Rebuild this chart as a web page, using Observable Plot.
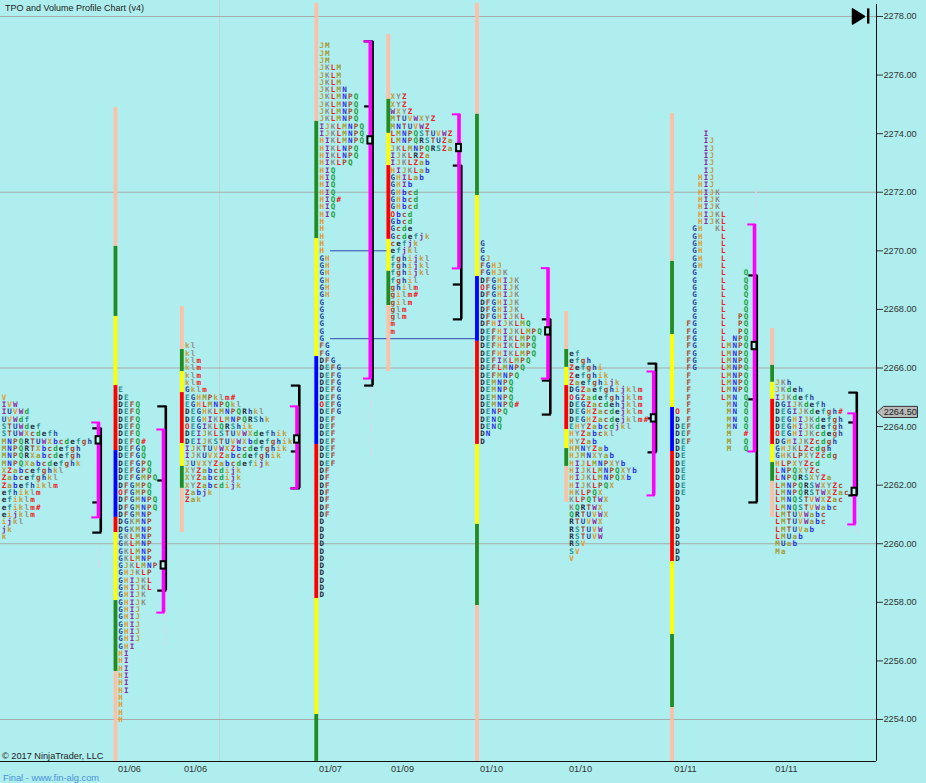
<!DOCTYPE html>
<html>
<head>
<meta charset="utf-8">
<script src="https://cdn.jsdelivr.net/npm/d3@7"></script>
<script src="https://cdn.jsdelivr.net/npm/@observablehq/plot@0.6"></script>
<style>
html,body{margin:0;padding:0;background:#afeeee;width:926px;height:783px;overflow:hidden}
#chart{position:absolute;left:0;top:0}
.note{position:absolute;font-family:"Liberation Sans",Arial,sans-serif;font-size:9.2px;line-height:12px;color:#222;white-space:nowrap}
</style>
</head>
<body>
<div id="chart"></div>
<div class="note" style="left:5px;top:2px;font-size:9px">TPO and Volume Profile Chart (v4)</div>
<div class="note" style="left:2px;top:750px">© 2017 NinjaTrader, LLC</div>
<div class="note" style="left:3px;top:772px;color:#4a90d8;font-size:9.3px">Final - www.fin-alg.com</div>
<script>
// TPO letter rows, top row first. Each row is 0.25 below the one above it.
const p1Rows = ["V","IVW","IUVWd","UVWdf","STUWdef","STUWXcdefh","MNPQRTUWXbcdefgh","MNPQRTXbcdefgh","MNPQRXabcdefgh","MNPQXabcdefghk","XZabcefghkl","Zabcefghkl","Zabefhiklm","efhiklm","efiklm","efiklm#","eijklm","ijkl","jk","k"];
const p2Rows = ["E","DE","DEFQ","DEFQ","DEFQ","DEFQ","DEFQ","DEFQ#","DEFGQ","DEFGQ","DEFGPQ","DEFGPQ","DEFGMPQ","DFGMPQ","OFGMPQ","DFGMNPQ","DFGMNPQ","DFGMNP","DGKMNP","DGKMNP","GKLMNP","GKLMNP","GKLMNP","GKLMNP","GJKLMNP","GHJKLP","GHIJKL","GHIJKL","GHIJK","GHIJK","GHIJ","GHIJ","GHIJ","GHIJ","GHIJ","GHI","HI","HI","HI","HI","HI","HI","H","H","H","H"];
const p3Rows = ["kl","kl","klm","klm","klm","klm","Gklm","EGHMPklm#","EGHLMNPQkl","DEGHKLMNPQRhkl","DEGHIKLMNPQRShk","OEGIKLQRShik","DEIJKLSTUVWXdefhik","DEIJKSTUVWXbdefghik","IJKTUVWXZbcdefghik","IJKUVXZabcdefghik","JUVXYZabcdefijk","XYZabcdijk","XYZabcdijk","XYZabcdijk","Zabjk","Zak"];
const p4Rows = ["JM","JM","JM","JKLM","JKLM","JKLM","JKLMN","JKLMNPQ","JKLMNPQ","JKLMNPQ","JKLMNPQ","IJKLMNPQ","IJKLMNPQ","HIKLMNPQ","HIKLNPQ","HIKLNPQ","HIKLPQ","HIQ","HIQ","HIQ","HIQ","HIQ#","HIQ","HIQ","H","H","H","H","H","GH","GH","GH","GH","GH","GH","G","G","G","G","G","G","FG","FG","DFG","DEFG","DEFG","DEFG","DEFG","DEFG","OEFG","DEFG","DEF","DEF","DEF","DEF","DEF","DEF","DEF","DF","DF","DF","DF","DF","DF","DF","D","D","D","D","D","D","D","D","D","D","D"];
const p5Rows = ["XYZ","XYZ","WXYZ","MTUVWXYZ","MNTUVWZ","LMNPQSTUVWZ","LMNPQRSTUZa","JKLMNPQRSZa","IJKLRZa","IJKLZab","HIJKLab","GHILab","GHIb","GHbcd","GHbcd","GHbcd","Obcd","Gbcd","Gcde","Gcdefjk","cefjk","efjkl","fghijkl","fghijkl","fghijkl","fghil","ghilm","gilm#","gilm","glm","glm","m","m"];
const p6Rows = ["G","G","GJ","FGHJ","FGHJK","DFGHIJK","OFGHIJK","DFGHIJK","DFGHIJK","DFGHIJK","DFGHIJKL","DFHIJKLMQ","DEFHIJKLMPQ","DEFHIKLMPQ","DEFHIKLMPQ","DEFHIKLMPQ","DEFIKLMPQ","DEFLMNPQ","DEFMNPQ","DEMNPQ","DEMNPQ","DEMNPQ","DEMNPQ#","DENPQ","DENQ","DENQ","DN","D"];
const p7Rows = ["ef","efgh","Zefghi","Zefghik","Zaefghijk","DGZaefghijklm","OGZadefghjklm","DEGZacdehjklm","DEGHZacdejklm","DEGHZacdejklm#","EHYZabcdjkl","HYZabckl","HYZab","HMNYZab","HJMNXYab","HIJLMNPXYb","HIJKLMNPQXYb","HIJKLMNPQXb","HIJKLPQX","HKLPQX","KLPQTWX","KQRTWX","QRTUVWX","RTUVWX","RSTUVW","RSTUVW","RSV","SV","V"];
const p8Rows = ["     I","     IJ","     IJ","     IJ","     IJ","     IJ","    HIJ","    HIJ","    HIJK","    HIJK","    HIJK","    HIJKL","    HIJKL","   GH  KL","   GH   L","   GH   L","   GH   L","   GH   L","   GH   L","   G    L   Q","   G    L   Q","   G    L   Q","   G    L   Q","   G    L   Q","   G    L   Q","   G    L  PQ","  FG    L  PQ","  FG    L  PQ","  FG    L NPQ","  FG    LMNPQ","  FG    LMNPQ","  FG    LMNPQ","  FG    LMNPQ","  F     LMNPQ","  F     LMNPQ","  F     LMNPQ","  F     LMN Q","  F      MN Q","O F      MN Q","D F      MN Q","DEF      MN Q","DEF      M  #","DEF      M  Q","DE       M  Q","DE","DE","DE","DE","DE","DE","D","D","D","D","D","D","D","D","D"];
const p9Rows = ["JKh","JKdeh","IJKdefh","DGIJKdefh","DEGIJKdefgh#","DEGHIJKdefgh","DEGHIJKdefgh","OEGHIJKcdegh","DGHIJKZcdgh","GHJKLZcdgh","GHKLPXYZcdg","HLPXYZcd","LNPQXYZc","LNPQRSXYZa","LMNPQRSWXYZc","LMNPQRSTWXZac","LMNQSTVWXZac","LMNQSTVWabc","LMTUVWabc","LMTUVWabc","LMTUVab","LMUab","MUab","Ma"];
const profileRows = [p1Rows,p2Rows,p3Rows,p4Rows,p5Rows,p6Rows,p7Rows,p8Rows,p9Rows];
const profileTops = [2265,2265.25,2266.75,2277,2275.25,2270.25,2266.5,2274,2265.5];
const profileColumns = [0.6,21,32.65,56.15,68.6,84.25,99.85,118.35,135.85];

// Coloured session stems: price edges and the colours between them.
const stemColumns = [20.1,31.7,55.2,67.8,83.3,98.9,117.4,134.9];
const stemEdges = [
  [2274.89,2270.15,2267.76,2265.40,2263.18,2260.90,2260.38,2258.06,2255.64,2252.57],
  [2268.10,2266.63,2265.88,2265.16,2263.42,2262.64,2261.89,2260.38],
  [2278.45,2274.42,2270.42,2266.39,2263.39,2258.13,2254.17,2252.57],
  [2277.39,2275.17,2274.01,2272.91,2270.39,2269.30,2268.13,2265.88],
  [2278.45,2274.66,2271.89,2269.12,2266.91,2263.39,2260.66,2257.89,2252.57],
  [2267.93,2266.63,2266.02,2265.40,2263.90,2263.25,2262.64,2261.41],
  [2274.69,2269.64,2267.14,2264.65,2263.15,2259.39,2256.90,2254.41,2252.57],
  [2267.35,2266.09,2265.51,2264.93,2263.39,2262.77,2262.13,2260.90]
];
const stemColors = [
  ["#fcc0a8","#228b22","#ffff00","#ff0000","#0000ff","#ff0000","#ffff00","#228b22","#fcc0a8"],
  ["#fcc0a8","#228b22","#ffff00","#ff0000","#ffff00","#228b22","#fcc0a8"],
  ["#fcc0a8","#228b22","#ffff00","#0000ff","#ff0000","#ffff00","#228b22"],
  ["#fcc0a8","#228b22","#ffff00","#ff0000","#ffff00","#228b22","#fcc0a8"],
  ["#fcc0a8","#228b22","#ffff00","#0000ff","#ff0000","#ffff00","#228b22","#fcc0a8"],
  ["#fcc0a8","#228b22","#ffff00","#ff0000","#ffff00","#228b22","#fcc0a8"],
  ["#fcc0a8","#228b22","#ffff00","#0000ff","#ff0000","#ffff00","#228b22","#fcc0a8"],
  ["#fcc0a8","#228b22","#ffff00","#ff0000","#ffff00","#228b22","#fcc0a8"]
];

// Volume profile brackets.
const bracketColumns = [17.13,28.5,51.84,64.65,80.16,95.72,114.2,131.82,149.3];
const magentaTop = [2264.14,2263.90,2264.69,2277.15,2274.66,2269.41,2265.88,2270.90,2264.45];
const magentaLow = [2260.90,2257.65,2261.89,2265.64,2269.40,2265.64,2261.65,2263.15,2260.66];
const blackTop = [2263.94,2264.69,2265.40,2277.15,2272.91,2267.66,2266.15,2269.16,2265.16];
const blackMid = [2261.41,2262.16,2263.15,2274.93,2268.85,2265.57,2264.28,2264.93,2264.14];
const blackLow = [2260.38,2258.40,2261.89,2265.40,2267.66,2264.41,2263.12,2261.41,2261.65];
const pocPrice = [2263.53,2259.26,2263.56,2273.77,2273.51,2267.25,2264.28,2266.75,2261.77];

const nakedPoc = [{price:2270,from:57.7,to:67.8},{price:2267,from:57.7,to:83.3}];
const faintWicks = [
  [17.3,2264.62,2263.94],[17.3,2259.87,2259.16],[28.85,2257.62,2256.42],
  [64.86,2265.30,2262.91],[96.15,2264.38,2264.14],[132.1,2272.13,2270.93],[149.8,2260.62,2260.18]
];

const gridPrices = [2254,2260,2266,2272,2278];
const priceTicks = [2254,2256,2258,2260,2262,2264,2266,2268,2270,2272,2274,2276,2278];
const dateLabels = ["01/06","01/06","01/07","01/09","01/10","01/10","01/11","01/11"];
const dateColumns = [22.55,34.09,57.69,70.28,85.84,101.4,119.76,137.41];
const lastPrice = 2264.5;

const black="#1f2a3a",teal="#2a9090",brown="#a8482c",navy="#2a46a0",orange="#e09a30",purple="#8a2aa0",
      gold="#bf9f40",gray="#8c8c84",red="#f02020",olive="#a09a2a",blue="#2a30e8",green="#20a040";
const letterColor = {D:black,E:teal,F:brown,G:navy,H:orange,I:purple,J:gold,K:gray,L:red,M:olive,N:blue,O:red,P:brown,Q:green,R:black,S:teal,T:brown,U:navy,V:orange,W:purple,X:gold,Y:gray,Z:red,a:olive,b:blue,c:brown,d:green,e:black,f:teal,g:brown,h:navy,i:orange,j:purple,k:gold,l:gray,m:red,"#":red};

const letters = profileRows.flatMap((rows,p)=>rows.flatMap((row,r)=>[...row].map((ch,i)=>({
  col:profileColumns[p]+i, price:profileTops[p]-0.25*r, ch, color:letterColor[ch]
})).filter(d=>d.ch!==" ")));

const stems = stemColumns.flatMap((col,s)=>stemColors[s].map((color,k)=>({col,y1:stemEdges[s][k],y2:stemEdges[s][k+1],color})));

const brackets = bracketColumns.map((col,i)=>({col,black:col+0.4,mt:magentaTop[i],ml:magentaLow[i],bt:blackTop[i],bm:blackMid[i],bl:blackLow[i],poc:pocPrice[i]}));
const hooks = brackets.flatMap(b=>[b.bt,b.bm,b.bl].map(price=>({price,x1:b.black-1.4,x2:b.black+0.2})));
const magentaHooks = brackets.flatMap(b=>[b.mt,b.ml].map(price=>({price,x1:b.col-1.17,x2:b.col+0.3})));

const TOP=2278.546, BOTTOM=2252.566, AXIS_COL=153.147;
const tag=[[153.32,lastPrice],[154.37,lastPrice+0.19],[160.31,lastPrice+0.19],[160.31,lastPrice-0.19],[154.37,lastPrice-0.19]];
const tri=[[148.95,2278.26],[148.95,2277.74],[151.05,2278]];

const plot = Plot.plot({
  width:926,height:783,marginTop:0,marginLeft:0,marginRight:50,marginBottom:22,
  style:{background:"transparent",overflow:"visible"},
  x:{domain:[0,AXIS_COL]},
  y:{domain:[BOTTOM,TOP]},
  color:{type:"identity"},
  marks:[
    Plot.ruleX([38.3],{y1:BOTTOM,y2:TOP,stroke:"#c3d2d2",strokeWidth:1}),
    Plot.ruleY(gridPrices,{x1:0,x2:AXIS_COL,stroke:"#a6acac",strokeWidth:1}),
    Plot.ruleX(faintWicks,{x:d=>d[0],y1:d=>d[1],y2:d=>d[2],stroke:"#cadcf4",strokeWidth:1.5,strokeDasharray:"9 3"}),
    Plot.ruleY(nakedPoc,{y:"price",x1:"from",x2:"to",stroke:"#3344b0",strokeWidth:1}),
    Plot.ruleX(stems,{x:"col",y1:"y1",y2:"y2",stroke:"color",strokeWidth:3.8}),
    Plot.ruleX(brackets,{x:"black",y1:"bt",y2:"bl",stroke:"#000",strokeWidth:2.6}),
    Plot.ruleY(hooks,{y:"price",x1:"x1",x2:"x2",stroke:"#000",strokeWidth:2.2}),
    Plot.ruleX(brackets,{x:"col",y1:"mt",y2:"ml",stroke:"#ff00ff",strokeWidth:3.6}),
    Plot.ruleY(magentaHooks,{y:"price",x1:"x1",x2:"x2",stroke:"#ff00ff",strokeWidth:2}),
    Plot.rect(brackets,{x1:d=>d.col-0.42,x2:d=>d.col+0.42,y1:d=>d.poc-0.125,y2:d=>d.poc+0.125,fill:"#c8f4f4",stroke:"#000",strokeWidth:2}),
    Plot.text(letters,{x:"col",y:"price",text:"ch",fill:"color",fontFamily:"'DejaVu Sans Mono',monospace",fontSize:7.6,fontWeight:"bold",lineAnchor:"middle",textAnchor:"middle"}),
    Plot.ruleY([BOTTOM],{x1:0,x2:AXIS_COL,stroke:"#111",strokeWidth:1}),
    Plot.ruleX([AXIS_COL],{y1:BOTTOM,y2:2278.41,stroke:"#111",strokeWidth:1}),
    Plot.axisY(priceTicks,{anchor:"right",tickSize:6,tickPadding:1,tickFormat:d3.format(".2f"),label:null,fontSize:9.2,fontFamily:"'Liberation Sans',Arial,sans-serif",color:"#333"}),
    Plot.axisX(dateColumns,{tickSize:0,tickPadding:4,label:null,tickFormat:(d)=>dateLabels[dateColumns.indexOf(d)],fontSize:9.2,fontFamily:"'Liberation Sans',Arial,sans-serif",color:"#333"}),
    Plot.line(tag,{x:d=>d[0],y:d=>d[1],curve:"linear-closed",fill:"#b8baba",stroke:"#333",strokeWidth:1}),
    Plot.text([lastPrice],{x:157.3,y:d=>d,text:d=>d3.format(".2f")(d),fill:"#222",fontSize:9.2,fontFamily:"'Liberation Sans',Arial,sans-serif",lineAnchor:"middle"}),
    Plot.line(tri,{x:d=>d[0],y:d=>d[1],curve:"linear-closed",fill:"#000",stroke:"#000"}),
    Plot.ruleX([151.7],{y1:2277.74,y2:2278.26,stroke:"#000",strokeWidth:2.4})
  ]
});
document.getElementById("chart").appendChild(plot);
</script>
</body>
</html>
